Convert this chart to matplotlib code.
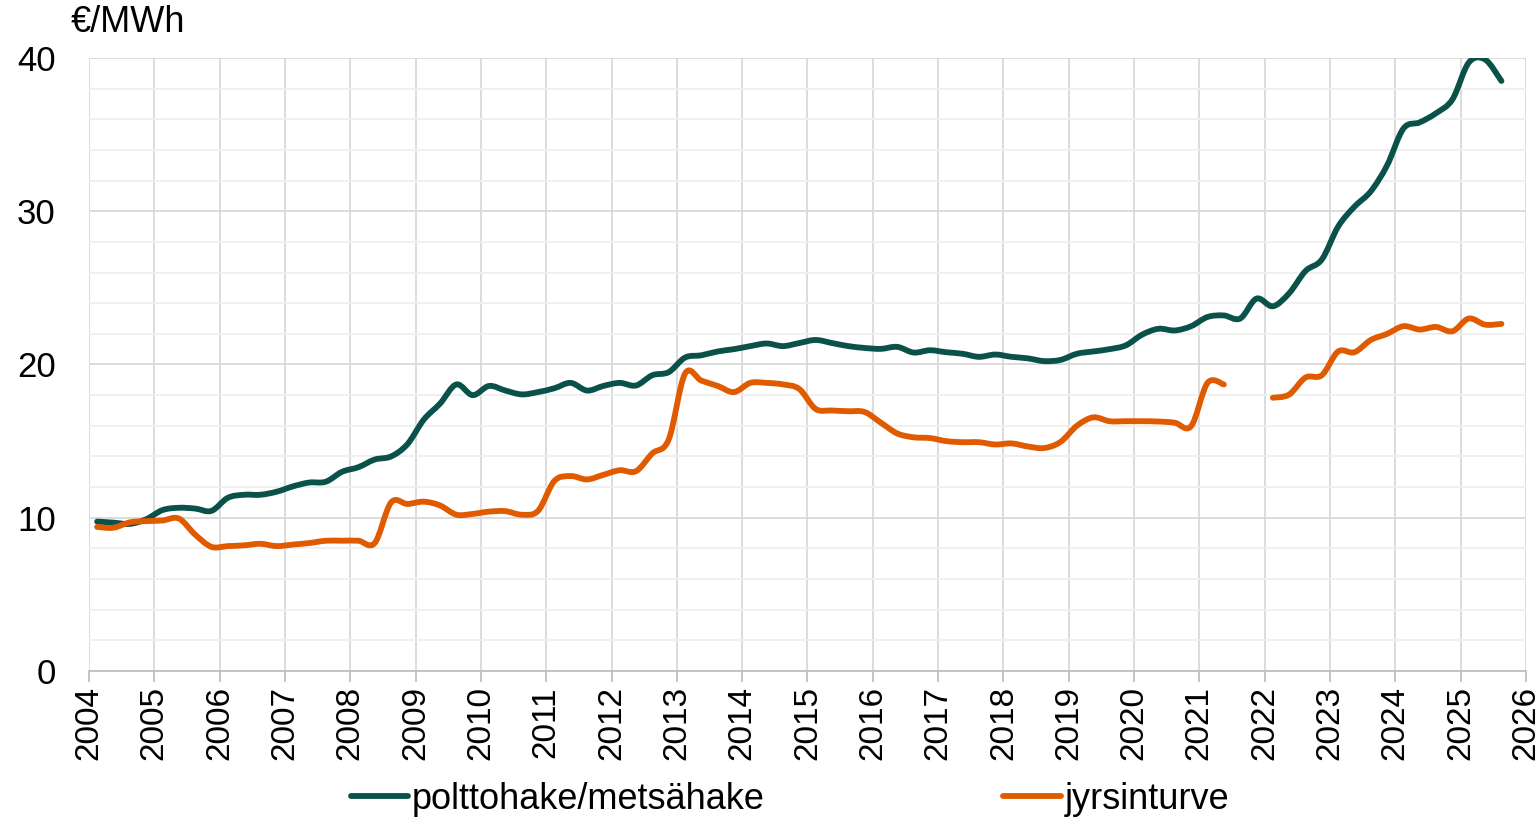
import numpy as np
import matplotlib
matplotlib.use('Agg')
import matplotlib.pyplot as plt
from matplotlib.ticker import MultipleLocator
from matplotlib.path import Path
from matplotlib.patches import PathPatch
from matplotlib.lines import Line2D

# quarterly values, 2004Q1 .. 2025Q3 (plotted at mid-quarter)
hake = [9.75, 9.68, 9.6, 9.9,
        10.5, 10.65, 10.6, 10.45,
        11.3, 11.5, 11.5, 11.7,
        12.05, 12.3, 12.35, 13.0,
        13.3, 13.8, 14.0, 14.8,
        16.4, 17.45, 18.7, 18.0,
        18.6, 18.3, 18.05, 18.2,
        18.45, 18.8, 18.3, 18.6,
        18.8, 18.63, 19.3, 19.5,
        20.45, 20.6, 20.85, 21.0,
        21.2, 21.37, 21.2, 21.4,
        21.6, 21.4, 21.2, 21.08,
        21.02, 21.15, 20.78, 20.93,
        20.8, 20.7, 20.5, 20.65,
        20.5, 20.4, 20.22, 20.3,
        20.7, 20.85, 21.0, 21.25,
        21.95, 22.33, 22.22, 22.5,
        23.1, 23.2, 23.0, 24.3,
        23.8, 24.65, 26.1, 26.85,
        29.0, 30.3, 31.3, 33.0,
        35.4, 35.8, 36.4, 37.3,
        39.7, 39.9, 38.5]

turve = [9.4, 9.35, 9.7, 9.78,
         9.82, 9.95, 8.9, 8.1,
         8.15, 8.2, 8.3, 8.15,
         8.25, 8.35, 8.5, 8.5,
         8.5, 8.35, 11.0, 10.9,
         11.05, 10.8, 10.2, 10.25,
         10.4, 10.43, 10.2, 10.45,
         12.4, 12.72, 12.5, 12.8,
         13.1, 13.04, 14.2, 15.1,
         19.4, 18.95, 18.6, 18.2,
         18.8, 18.8, 18.7, 18.4,
         17.1, 17.0, 16.95, 16.9,
         16.2, 15.5, 15.25, 15.2,
         15.0, 14.93, 14.93, 14.78,
         14.85, 14.65, 14.55, 14.95,
         16.0, 16.55, 16.3, 16.3,
         16.3, 16.28, 16.2, 15.98,
         18.8, 18.7, np.nan, np.nan,
         17.83, 18.04, 19.15, 19.3,
         20.85, 20.8, 21.6, 22.0,
         22.5, 22.28, 22.45, 22.17,
         23.0, 22.6, 22.65]

labels = ['polttohake/metsähake', 'jyrsinturve']
colors = ['#0a5249', '#e05a00']
years = list(range(2004, 2027))

t = 2004.125 + 0.25 * np.arange(len(hake))


def smooth_line(ax, x, y, color, lw):
    # Excel-style smoothed line: cubic Bezier through the data points
    y = np.asarray(y, dtype=float)
    ok = ~np.isnan(y)
    idx = np.where(ok)[0]
    runs = np.split(idx, np.where(np.diff(idx) > 1)[0] + 1)
    for r in runs:
        px, py = x[r], y[r]
        verts = [(px[0], py[0])]
        codes = [Path.MOVETO]
        n = len(px)
        for i in range(n - 1):
            i0, i3 = max(i - 1, 0), min(i + 2, n - 1)
            c1 = (px[i] + (px[i + 1] - px[i0]) / 6, py[i] + (py[i + 1] - py[i0]) / 6)
            c2 = (px[i + 1] - (px[i3] - px[i]) / 6, py[i + 1] - (py[i3] - py[i]) / 6)
            verts += [c1, c2, (px[i + 1], py[i + 1])]
            codes += [Path.CURVE4] * 3
        ax.add_patch(PathPatch(Path(verts, codes), fill=False, edgecolor=color,
                               lw=lw, capstyle='round', joinstyle='round'))


plt.rcParams['font.family'] = ['Liberation Sans', 'DejaVu Sans']

fig = plt.figure(figsize=(15.37, 8.19), dpi=100)
ax = fig.add_axes([0.0579, 0.1807, 0.9349, 0.7485])

smooth_line(ax, t, hake, colors[0], 4.2)
smooth_line(ax, t, turve, colors[1], 4.2)

ax.set_xlim(2004, 2026)
ax.set_ylim(0, 40)
ax.set_xticks(years)
ax.set_xticklabels([str(y) for y in years], rotation=90, fontsize=24)
ax.yaxis.set_major_locator(MultipleLocator(10))
ax.yaxis.set_minor_locator(MultipleLocator(2))
ax.tick_params(axis='y', which='both', length=0, labelsize=25, pad=24)
ax.tick_params(axis='x', length=8, color='#bfbfbf', width=1.3, pad=3)

ax.grid(axis='y', which='major', color='#d9d9d9', lw=1.3)
ax.grid(axis='y', which='minor', color='#efefef', lw=1.3)
ax.grid(axis='x', which='major', color='#d9d9d9', lw=1.3)
ax.set_axisbelow(True)
for s in ['top', 'right', 'left']:
    ax.spines[s].set_visible(False)
ax.spines['bottom'].set_color('#bfbfbf')
ax.spines['bottom'].set_linewidth(1.3)

fig.text(0.046, 0.972, '€/MWh', fontsize=26, va='center', ha='left')

handles = [Line2D([], [], color=c, lw=4.2, solid_capstyle='round') for c in colors]
fig.legend(handles, labels, loc='center', bbox_to_anchor=(0.514, 0.024), ncol=2,
           frameon=False, fontsize=26, handlelength=1.6, handletextpad=0.1,
           columnspacing=6.6, borderaxespad=0)

fig.savefig('out.png', dpi=100)
